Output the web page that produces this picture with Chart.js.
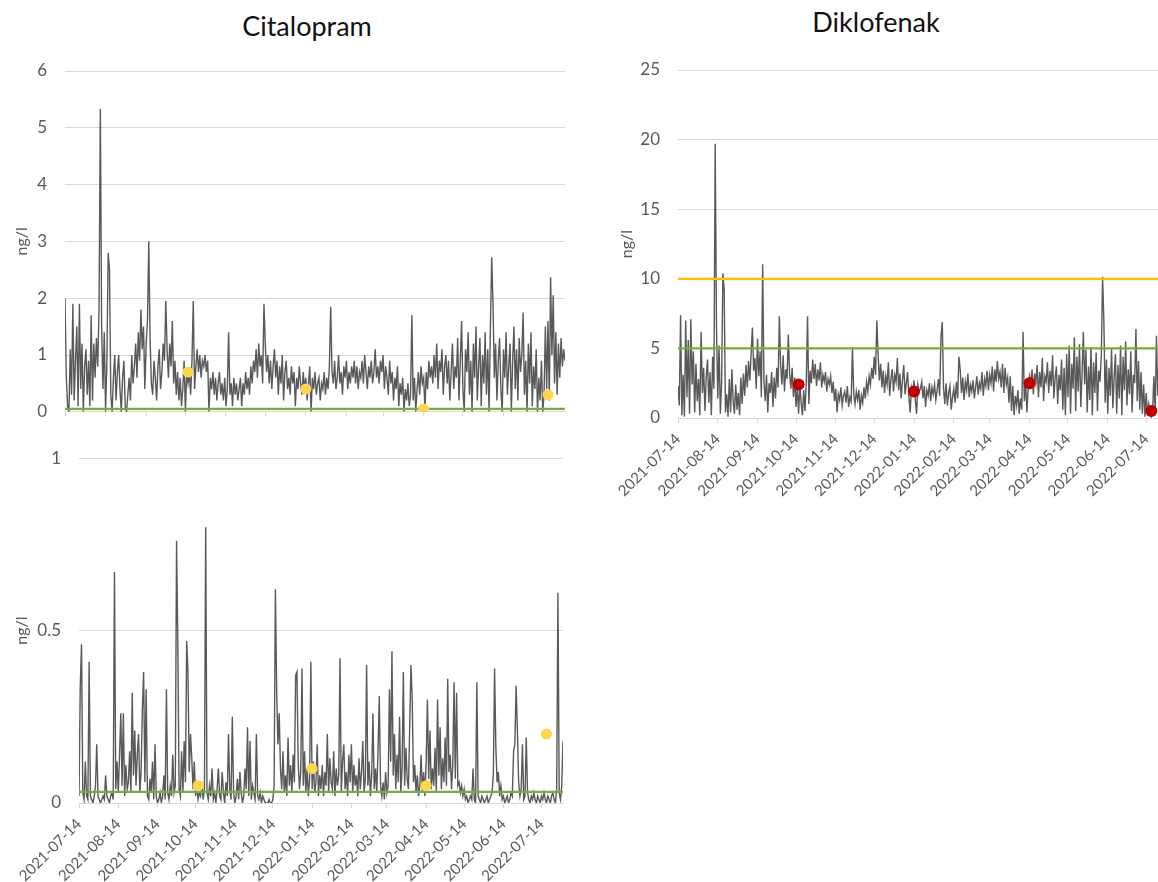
<!DOCTYPE html>
<html>
<head>
<meta charset="utf-8">
<script src="https://cdn.jsdelivr.net/npm/chart.js@4.4.1/dist/chart.umd.min.js"></script>
<style>
  html, body { margin: 0; padding: 0; background: #fff; width: 1158px; height: 882px; overflow: hidden; }
  canvas { position: absolute; }
  .title { position: absolute; font-family: Lato, "Open Sans", sans-serif; font-size: 27px; color: #111;
           transform: translateX(-50%); white-space: nowrap; line-height: 32px; }
</style>
</head>
<body>
<div class="title" style="left:307px; top:10px;">Citalopram</div>
<div class="title" style="left:876px; top:6px;">Diklofenak</div>
<canvas id="citalopram" width="580" height="440" style="left:0; top:0;"></canvas>
<canvas id="lowRange" width="580" height="452" style="left:0; top:430px;"></canvas>
<canvas id="diklofenak" width="600" height="540" style="left:580px; top:0;"></canvas>
<script>
// Monthly axis ticks (day index counted from 2021-07-14)
const monthTickDays = [0, 31, 62, 92, 123, 153, 184, 215, 243, 274, 304, 335, 365];
const monthTickLabels = ['2021-07-14', '2021-08-14', '2021-09-14', '2021-10-14', '2021-11-14', '2021-12-14',
  '2022-01-14', '2022-02-14', '2022-03-14', '2022-04-14', '2022-05-14', '2022-06-14', '2022-07-14'];
const lastDay = 382;

// Grab-sample days (day index) shared by all panels
const sampleDays = [94, 184, 274, 369];

// Citalopram, continuous measurement (ng/l), one value per day
const citalopramValues = [
  2.0,0.6,0.1,0.0,1.1,0.3,1.9,0.2,0.9,1.5,0.1,1.9,0.4,1.2,0.0,0.8,1.1,0.3,0.9,0.1,
  1.7,0.2,1.2,0.6,1.3,0.8,1.8,5.33,1.5,0.4,1.4,0.0,0.9,2.8,2.5,0.3,0.0,0.6,1.0,0.2,
  0.7,1.0,0.4,0.0,0.6,0.9,0.1,0.0,0.3,0.6,0.2,1.0,0.5,0.8,1.2,0.6,1.4,0.9,1.8,1.1,
  1.5,0.4,1.2,1.6,3.0,1.3,0.5,0.3,0.9,0.6,0.2,0.8,1.1,0.4,0.7,1.2,0.9,1.95,1.1,0.6,
  1.2,0.8,1.6,0.5,0.9,0.3,0.7,0.2,0.6,0.1,0.4,0.9,0.0,0.7,0.5,0.7,0.3,0.9,1.95,0.4,
  0.8,1.1,0.7,1.0,0.6,0.9,0.8,1.0,0.7,0.9,0.0,0.6,0.4,0.7,0.3,0.6,0.2,0.5,0.7,0.3,
  0.5,0.2,0.6,0.1,0.4,1.4,0.3,0.5,0.1,0.6,0.3,0.5,0.2,0.4,0.6,0.1,0.5,0.3,0.7,0.4,
  0.6,0.3,0.8,0.5,0.9,0.7,1.1,0.6,1.2,0.8,1.0,0.5,1.9,1.2,0.7,1.0,0.5,0.9,0.4,0.8,
  1.1,0.6,0.9,0.3,0.8,0.5,1.0,0.2,0.7,0.9,0.4,0.6,0.3,0.8,0.5,0.7,0.1,0.6,0.4,0.8,
  0.5,0.3,0.7,0.4,0.6,0.2,0.5,0.8,0.0,0.6,0.4,0.7,0.3,0.5,0.6,0.2,0.5,0.4,0.7,0.3,
  0.6,0.4,0.8,1.85,0.7,0.5,0.9,0.4,0.6,1.0,0.5,0.7,0.3,0.8,0.6,0.9,0.4,0.7,0.5,0.8,
  0.6,0.9,0.5,0.8,0.4,0.7,0.6,0.9,0.5,1.0,0.7,0.4,0.8,0.6,0.9,0.5,0.7,1.1,0.6,0.8,
  0.5,0.9,0.7,1.0,0.4,0.8,0.6,0.3,0.9,0.5,0.7,0.2,0.6,0.4,0.8,0.1,0.5,0.3,0.6,0.0,
  0.4,0.2,0.5,0.1,0.3,1.7,0.2,0.6,0.0,0.4,0.7,0.3,0.8,0.5,0.6,0.05,0.7,0.4,0.9,0.6,
  0.8,0.5,1.0,0.6,1.2,0.4,0.9,0.7,1.1,0.3,0.8,1.0,0.5,0.9,0.2,0.7,1.2,0.4,0.8,0.6,
  1.3,0.2,0.9,1.6,0.4,0.0,1.1,0.7,1.4,0.3,0.9,0.0,1.2,0.6,1.5,0.2,0.8,1.3,0.1,1.0,
  0.5,1.4,0.3,1.1,0.0,1.5,2.72,1.9,0.6,1.2,0.2,0.9,1.3,0.4,0.0,1.1,0.6,1.4,0.3,0.8,
  1.2,0.0,0.9,1.5,0.4,1.1,0.2,1.3,0.7,1.0,1.75,0.3,0.9,0.0,1.2,0.5,1.4,0.1,0.8,0.4,
  1.1,0.0,0.6,0.2,0.9,0.0,0.3,1.5,0.4,1.6,0.2,2.37,1.0,2.05,0.5,1.4,0.3,1.2,0.6,1.3,0.8,1.1,0.9
];
const citalopramSamples = [0.7, 0.4, 0.05, 0.3];
const citalopramLimit = 0.05;

// Low-range panel, continuous measurement (ng/l)
const lowRangeValues = [
  0.02,0.34,0.46,0.03,0.01,0.12,0.02,0.01,0.41,0.02,0.01,0.00,0.02,0.05,0.17,0.02,0.01,0.00,0.01,0.02,
  0.01,0.08,0.02,0.01,0.00,0.02,0.03,0.01,0.67,0.04,0.12,0.03,0.14,0.26,0.05,0.26,0.02,0.11,0.04,0.06,
  0.15,0.03,0.32,0.08,0.21,0.05,0.14,0.20,0.03,0.09,0.27,0.38,0.06,0.33,0.02,0.01,0.07,0.03,0.12,0.01,
  0.17,0.02,0.00,0.01,0.03,0.00,0.02,0.08,0.01,0.33,0.03,0.01,0.05,0.02,0.14,0.03,0.05,0.76,0.46,0.04,
  0.02,0.15,0.03,0.18,0.06,0.47,0.38,0.09,0.20,0.13,0.04,0.12,0.02,0.05,0.01,0.03,0.02,0.06,0.01,0.04,
  0.80,0.03,0.01,0.05,0.02,0.10,0.01,0.03,0.00,0.04,0.10,0.02,0.01,0.09,0.03,0.00,0.06,0.02,0.20,0.04,
  0.01,0.25,0.03,0.00,0.02,0.07,0.01,0.09,0.03,0.00,0.02,0.10,0.04,0.22,0.02,0.18,0.01,0.05,0.03,0.01,
  0.20,0.02,0.01,0.03,0.00,0.02,0.01,0.00,0.00,0.00,0.01,0.00,0.00,0.01,0.05,0.62,0.33,0.17,0.26,0.10,
  0.04,0.15,0.03,0.08,0.02,0.19,0.05,0.11,0.03,0.14,0.06,0.37,0.38,0.12,0.04,0.09,0.39,0.05,0.15,0.03,
  0.10,0.02,0.07,0.41,0.04,0.12,0.03,0.06,0.17,0.02,0.08,0.04,0.11,0.02,0.09,0.05,0.20,0.03,0.13,0.06,
  0.04,0.15,0.02,0.10,0.05,0.08,0.42,0.03,0.12,0.17,0.04,0.09,0.02,0.14,0.06,0.17,0.03,0.11,0.05,0.08,
  0.02,0.13,0.04,0.09,0.18,0.03,0.07,0.40,0.05,0.12,0.02,0.08,0.26,0.04,0.10,0.03,0.15,0.31,0.05,0.02,
  0.06,0.01,0.09,0.03,0.05,0.33,0.12,0.44,0.08,0.20,0.04,0.14,0.06,0.25,0.03,0.10,0.38,0.05,0.16,0.07,
  0.04,0.22,0.40,0.30,0.06,0.11,0.03,0.08,0.02,0.05,0.14,0.03,0.09,0.02,0.12,0.30,0.07,0.21,0.04,0.10,
  0.05,0.16,0.03,0.30,0.08,0.22,0.04,0.13,0.06,0.19,0.05,0.36,0.09,0.14,0.04,0.11,0.35,0.07,0.32,0.05,
  0.06,0.03,0.05,0.02,0.04,0.01,0.02,0.00,0.01,0.02,0.01,0.10,0.01,0.00,0.35,0.02,0.01,0.00,0.02,0.01,
  0.00,0.01,0.02,0.00,0.01,0.02,0.03,0.08,0.39,0.16,0.06,0.09,0.02,0.05,0.01,0.02,0.00,0.01,0.02,0.00,
  0.01,0.03,0.02,0.15,0.17,0.34,0.21,0.06,0.02,0.04,0.17,0.01,0.02,0.19,0.03,0.01,0.00,0.02,0.01,0.03,
  0.01,0.00,0.02,0.01,0.00,0.02,0.01,0.03,0.01,0.00,0.02,0.01,0.00,0.02,0.03,0.01,0.00,0.04,0.61,0.03,0.01,0.05,0.18
];
const lowRangeSamples = [0.05, 0.10, 0.05, 0.20];
const lowRangeLimit = 0.032;

// Diklofenak, continuous measurement (ng/l)
const diklofenakValues = [
  2.3,0.9,7.4,0.2,3.1,0.1,7.0,1.5,5.6,0.3,7.1,2.4,4.8,0.4,3.9,1.2,2.8,0.2,6.2,1.8,
  3.6,0.5,2.9,4.2,1.1,3.3,0.2,4.4,2.1,19.7,6.6,1.4,5.2,0.3,2.6,10.4,9.2,0.4,1.7,0.1,
  2.8,0.4,3.5,1.2,0.3,2.4,0.6,1.8,0.2,2.9,1.0,3.2,1.6,3.8,2.2,4.1,2.7,4.6,6.5,3.4,
  4.3,2.1,5.7,3.0,4.8,1.5,11.05,2.6,1.2,3.1,0.4,2.5,1.8,3.3,0.8,2.9,1.4,3.6,2.2,7.3,
  3.8,2.4,4.5,1.9,3.5,2.8,6.0,3.2,2.1,3.6,1.5,2.9,0.8,2.3,0.3,2.4,1.1,0.2,2.0,0.5,
  2.6,7.3,1.0,3.4,2.5,4.2,2.8,3.9,2.3,3.5,2.7,4.0,2.2,3.1,2.6,3.3,1.9,2.8,2.4,3.0,
  1.8,2.6,1.2,2.1,0.4,1.7,1.3,2.2,0.9,1.6,1.9,1.1,2.3,0.8,1.5,1.2,5.1,1.7,1.0,1.9,
  1.3,2.0,0.6,1.6,1.1,2.2,1.4,2.6,1.9,3.0,2.4,3.6,2.8,4.4,3.1,7.0,4.6,2.7,3.9,2.2,
  3.4,1.8,3.0,2.4,4.0,1.6,2.8,3.5,1.9,3.1,2.6,4.3,2.0,3.2,1.4,2.7,3.8,1.7,2.5,3.3,
  1.5,0.4,2.2,1.8,2.7,1.3,0.3,2.4,1.9,2.1,2.6,1.4,2.3,0.8,2.0,1.6,2.5,1.2,2.2,1.7,
  2.4,1.3,2.0,2.8,1.6,5.8,6.9,2.2,1.0,2.5,0.9,1.8,2.3,0.6,1.5,2.1,1.1,2.6,1.4,4.4,
  3.5,1.8,2.9,1.3,2.6,2.0,3.2,1.5,2.4,1.9,2.7,1.4,2.2,3.0,1.7,2.5,2.1,3.3,1.6,2.8,
  2.3,3.4,2.0,3.1,2.5,3.7,1.9,3.5,2.6,4.1,2.8,3.3,2.2,3.9,1.8,3.6,2.4,2.9,1.1,3.0,
  0.5,2.3,0.2,1.6,0.9,2.0,0.3,1.4,0.6,6.2,1.2,2.6,0.4,2.1,3.0,2.4,3.5,1.7,3.2,2.5,
  3.8,1.5,3.3,2.2,4.3,1.2,3.0,2.6,4.0,1.8,3.4,2.3,4.5,1.4,2.9,3.7,1.0,3.1,2.0,4.2,
  0.6,3.6,0.2,4.6,1.5,5.2,0.3,3.9,2.1,5.8,0.5,4.4,1.9,5.3,0.8,3.2,6.2,2.4,4.9,0.4,
  3.7,1.3,5.1,0.2,4.0,1.8,4.7,0.5,3.4,2.6,4.5,10.15,7.0,1.1,4.2,0.3,3.6,1.6,5.0,0.7,
  2.9,4.6,0.3,3.8,1.4,5.2,0.2,4.4,2.0,5.5,0.9,3.5,1.7,4.8,0.4,3.1,2.5,6.4,1.2,4.1,
  0.6,3.3,0.3,2.4,0.1,1.8,0.2,1.0,0.4,0.1,0.5,3.0,0.3,5.9,1.6,4.2,8.9,2.2,5.1,1.4,3.5,0.8,2.6
];
const diklofenakSamples = [2.4, 1.9, 2.5, 0.5];
const diklofenakLimitGreen = 5;
const diklofenakLimitOrange = 10;

const FONT = 'Lato, "Open Sans", sans-serif';
Chart.defaults.font.family = FONT;

const toPoints = (days, vals) => vals.map((v, i) => ({ x: days ? days[i] : i, y: v }));
const flatLine = (y) => [{ x: 0, y: y }, { x: lastDay, y: y }];

function buildChart(id, p) {
  const datasets = [
    { type: 'scatter', data: toPoints(sampleDays, p.samples), showLine: false,
      pointRadius: p.dotRadius, pointHoverRadius: p.dotRadius, borderWidth: 0,
      backgroundColor: p.dotColor, pointBorderColor: p.dotColor, order: 0 }
  ];
  p.limits.forEach(l => datasets.push({
    data: flatLine(l.value), borderColor: l.color, borderWidth: 2.2,
    pointRadius: 0, tension: 0, order: 1
  }));
  datasets.push({
    data: toPoints(null, p.values), borderColor: 'rgba(60,60,60,0.85)', borderWidth: 1.4,
    pointRadius: 0, tension: 0, order: 3
  });

  return new Chart(document.getElementById(id), {
    type: 'line',
    data: { datasets },
    options: {
      responsive: false,
      animation: false,
      events: [],
      layout: { padding: { top: p.padTop, right: p.padRight, bottom: 0, left: 0 } },
      plugins: { legend: { display: false }, tooltip: { enabled: false } },
      scales: {
        x: {
          type: 'linear', min: 0, max: lastDay,
          afterBuildTicks: s => { s.ticks = monthTickDays.map(v => ({ value: v })); },
          afterFit: s => { s.height = p.xHeight; },
          grid: { drawOnChartArea: false, drawTicks: true, tickLength: 5, color: '#d9d9d9' },
          border: { color: '#d9d9d9', width: 1 },
          ticks: {
            display: p.showDates, autoSkip: false, minRotation: 45, maxRotation: 45, padding: 7,
            color: '#595959', font: { size: 15 },
            callback: v => { const k = monthTickDays.indexOf(v); return k >= 0 ? monthTickLabels[k] : ''; }
          }
        },
        y: {
          min: 0, max: p.yMax,
          afterFit: s => { s.width = p.yWidth; },
          grid: { color: '#d9d9d9', drawTicks: false },
          border: { display: false },
          ticks: { stepSize: p.yStep, padding: 18, color: '#595959', font: { size: 17 },
                   callback: v => String(v) },
          title: { display: true, text: 'ng/l', color: '#595959', font: { size: 16 },
                   padding: { top: p.titlePad, bottom: 0 } }
        }
      }
    }
  });
}

buildChart('citalopram', {
  values: citalopramValues, samples: citalopramSamples, dotColor: '#ffd54f', dotRadius: 5.5,
  limits: [{ value: citalopramLimit, color: '#70ad47' }],
  yMax: 6, yStep: 1, padTop: 71, padRight: 15, xHeight: 22, yWidth: 65, titlePad: 12, showDates: false
});

buildChart('lowRange', {
  values: lowRangeValues, samples: lowRangeSamples, dotColor: '#ffd54f', dotRadius: 5.5,
  limits: [{ value: lowRangeLimit, color: '#70ad47' }],
  yMax: 1, yStep: 0.5, padTop: 24, padRight: 17, xHeight: 79, yWidth: 79, titlePad: 12, showDates: true
});

buildChart('diklofenak', {
  values: diklofenakValues, samples: diklofenakSamples, dotColor: '#c00000', dotRadius: 6,
  limits: [{ value: diklofenakLimitGreen, color: '#70ad47' }, { value: diklofenakLimitOrange, color: '#ffc000' }],
  yMax: 25, yStep: 5, padTop: 70, padRight: 12, xHeight: 122, yWidth: 98, titlePad: 37, showDates: true
});
</script>
</body>
</html>
